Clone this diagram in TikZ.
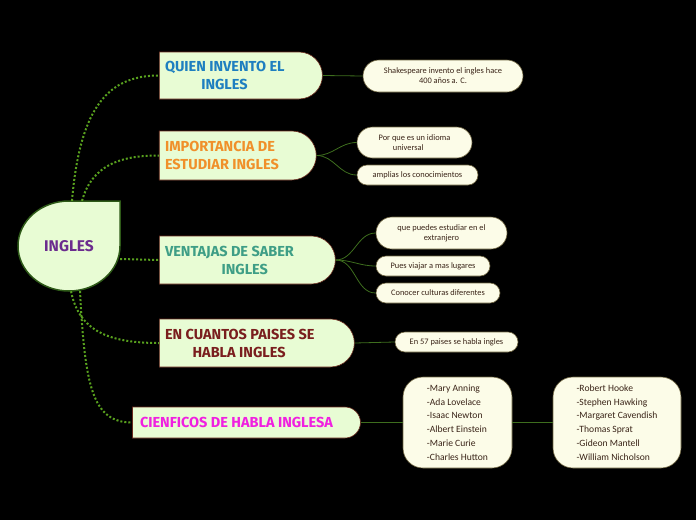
\documentclass[tikz,border=0pt]{standalone}
\usepackage{fontspec}
\setmainfont{Carlito}
\newfontfamily\headfont{Fira Sans}
\usetikzlibrary{positioning,shapes.misc}

\definecolor{boxfill}{HTML}{E8FCD4}
\definecolor{boxline}{HTML}{6A2A1E}
\definecolor{leaffill}{HTML}{FCFCE8}
\definecolor{leafedge}{HTML}{6E6440}
\definecolor{leaftext}{HTML}{3A2418}
\definecolor{rootline}{HTML}{2E5A18}
\definecolor{dotgreen}{HTML}{58A01E}
\definecolor{linkgreen}{HTML}{3E6E1E}
\definecolor{tblue}{HTML}{1E7FC0}
\definecolor{torange}{HTML}{F0902A}
\definecolor{tteal}{HTML}{3E9E86}
\definecolor{tred}{HTML}{7A1E1E}
\definecolor{tmagenta}{HTML}{F020E0}
\definecolor{tpurple}{HTML}{6B2C8E}

% text block of a branch, starting 8pt right of the box's left side
\newcommand{\branchtext}[2]{\makebox[0pt]{\parbox{#1}{\raggedright #2}}}

\tikzset{
	branch/.style={rounded rectangle, rounded rectangle left arc=none, draw=boxline,
		fill=boxfill, line width=0.6pt, inner sep=0pt,
		font=\headfont\bfseries\fontsize{14.5}{18}\selectfont},
	leaf/.style={rounded rectangle, draw=leafedge, fill=leaffill, line width=0.6pt,
		inner sep=0pt, align=center, text=leaftext, font=\fontsize{8.4}{10}\selectfont},
	namebox/.style={rectangle, rounded corners=20pt, draw=leafedge, fill=leaffill,
		line width=0.6pt, inner sep=0pt, align=left, text=leaftext,
		minimum height=91pt, font=\fontsize{9.6}{13.8}\selectfont},
	dotlink/.style={draw=dotgreen, line width=2pt, dash pattern=on 2pt off 2pt},
	leaflink/.style={draw=linkgreen, line width=0.8pt}
}

\begin{document}
\begin{tikzpicture}[x=1pt,y=-1pt]
	\fill[black] (0,0) rectangle (696,520);
	\useasboundingbox (0,0) rectangle (696,520);
	% root drop
	\filldraw[fill=boxfill, draw=rootline, line width=1.5pt]
		(120,201) -- (120,246) arc[start angle=0, end angle=-270, x radius=51pt, y radius=45pt] -- cycle;
	\node[minimum width=102pt, minimum height=90pt, text=tpurple,
		font=\headfont\bfseries\fontsize{15.5}{18}\selectfont] (ingles) at (69,246) {INGLES};

	% branches
	\node[branch, minimum width=163pt, minimum height=47pt, text=tblue] (quien) at (238.5,75.5)
		{\branchtext{147pt}{QUIEN INVENTO EL\\\hspace*{2.5em}INGLES}};
	\node[branch, minimum width=157pt, minimum height=49pt, text=torange] (importancia) at (235.5,155.5)
		{\branchtext{141pt}{IMPORTANCIA DE\\ESTUDIAR INGLES}};
	\node[branch, minimum width=176pt, minimum height=48pt, text=tteal] (ventajas) at (245,260)
		{\branchtext{160pt}{VENTAJAS DE SABER\\\hspace*{3.9em}INGLES}};
	\node[branch, minimum width=195pt, minimum height=48pt, text=tred] (paises) at (254.5,343)
		{\branchtext{179pt}{EN CUANTOS PAISES SE\\\hspace*{1.9em}HABLA INGLES}};
	\node[branch, minimum width=228pt, minimum height=31pt, text=tmagenta] (cientificos) at (246,422.5)
		{\branchtext{212pt}{CIENFICOS DE HABLA INGLESA}};

	% leaves
	\node[leaf, minimum width=160pt, minimum height=32pt] (shakespeare) at (443,76)
		{Shakespeare invento el ingles hace\\400 años a. C.};
	\node[leaf, minimum width=115pt, minimum height=31pt] (idioma) at (414.5,142.5)
		{Por que es un idioma\\universal\hspace*{1.5em}};
	\node[leaf, minimum width=121pt, minimum height=20pt] (amplias) at (417.5,175)
		{amplias los conocimientos};
	\node[leaf, minimum width=131pt, minimum height=32pt] (estudiar) at (441.5,233)
		{que puedes estudiar en el\\extranjero};
	\node[leaf, minimum width=114pt, minimum height=20pt] (viajar) at (433,266)
		{Pues viajar a mas lugares};
	\node[leaf, minimum width=124pt, minimum height=20pt] (culturas) at (438,293)
		{Conocer culturas diferentes};
	\node[leaf, minimum width=123pt, minimum height=20pt] (cincuenta) at (456.5,342)
		{En 57 paises se habla ingles};
	\node[namebox, minimum width=109pt] (lista1) at (457.5,422.5)
		{-Mary Anning\\-Ada Lovelace\\-Isaac Newton\\-Albert Einstein\\-Marie Curie\\-Charles Hutton};
	\node[namebox, minimum width=128pt] (lista2) at (617,422.5)
		{-Robert Hooke\\-Stephen Hawking\\-Margaret Cavendish\\-Thomas Sprat\\-Gideon Mantell\\-William Nicholson};

	% links from the root
	\draw[dotlink] ([xshift=3pt]ingles.north) .. controls +(8,-95) and +(-50,0) .. (quien.west);
	\draw[dotlink] ([xshift=13pt]ingles.north) .. controls +(10,-35) and +(-40,0) .. (importancia.west);
	\draw[dotlink] ([yshift=-13pt]ingles.east) -- (ventajas.west);
	\draw[dotlink] ([xshift=2pt]ingles.south) .. controls +(8,40) and +(-50,0) .. (paises.west);
	\draw[dotlink] ([xshift=11pt]ingles.south) .. controls +(5,95) and +(-40,0) .. (cientificos.west);

	% links to the leaves
	\path[leaflink]
		(quien.east) edge (shakespeare.west)
		(importancia.east) edge[out=0,in=180] (idioma.west)
		(importancia.east) edge[out=0,in=180] (amplias.west)
		(ventajas.east) edge[out=0,in=180] (estudiar.west)
		(ventajas.east) edge[out=0,in=180] (viajar.west)
		(ventajas.east) edge[out=0,in=180] (culturas.west)
		(paises.east) edge (cincuenta.west)
		(cientificos.east) edge (lista1.west)
		(lista1.east) edge (lista2.west);
	%\draw[leaflink] (lista1.east) -- (lista2.west);
\end{tikzpicture}
\end{document}
